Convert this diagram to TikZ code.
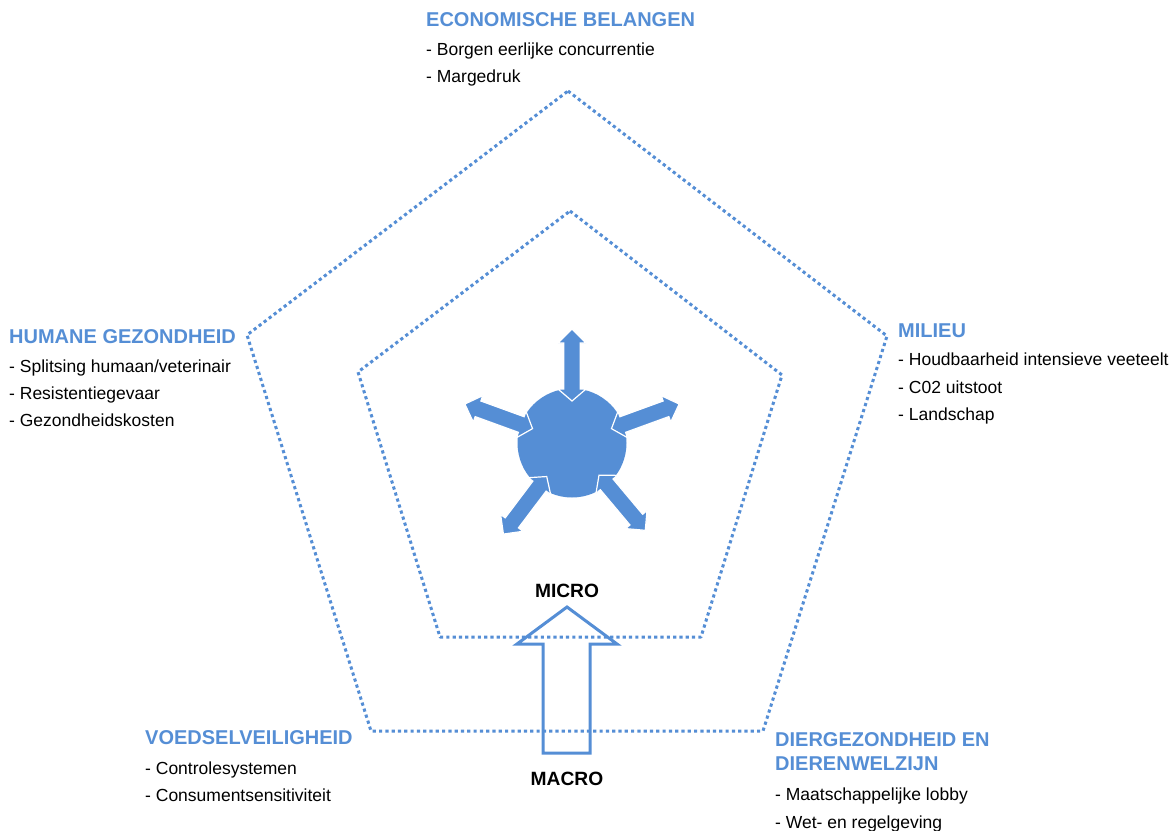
\documentclass[tikz,border=0pt]{standalone}
\usepackage{fontspec}
\setmainfont{Liberation Sans}
\definecolor{ob}{RGB}{85,142,213}
\begin{document}
\begin{tikzpicture}[x=1pt,y=-1pt,
  pent/.style={draw=ob, line width=3pt, dash pattern=on 3.2pt off 3.1pt, line join=round},
  hdr/.style={anchor=base west, inner sep=0pt, font=\fontsize{20}{24}\selectfont\bfseries, text=ob},
  itm/.style={anchor=base west, inner sep=0pt, font=\fontsize{17.5}{21}\selectfont},
  lbl/.style={anchor=base, inner sep=0pt, font=\fontsize{19.2}{23}\selectfont\bfseries},
  spoke/.style={fill=ob, draw=white, line width=1.2pt, line join=miter},
  bigarrow/.style={draw=ob, line width=3pt, line join=miter}]
\useasboundingbox (0,0) rectangle (1175,830);

% pentagons
\draw[pent] (568,91) -- (887,336) -- (763,731) -- (371,731) -- (247,335) -- cycle;
\draw[pent] (570,211) -- (782,375) -- (701,637) -- (440,637) -- (358,372) -- cycle;

% core
\node[circle, fill=ob, minimum size=109pt, inner sep=0pt] (core) at (572,443) {};
\foreach \a in {90,20,160,-50,-127}{
  \begin{scope}[shift={(572,443)}, rotate=\a]
    \filldraw[spoke] (42,0) -- (54,14) -- (54,8.3) -- (100,8.3) -- (100,14) -- (114,0)
      -- (100,-14) -- (100,-8.3) -- (54,-8.3) -- (54,-14) -- cycle;
  \end{scope}}

% macro -> micro arrow
\draw[bigarrow] (567,607) -- (617,644) -- (590,644) -- (590,753) -- (543,753) -- (543,644) -- (517,644) -- cycle;
\node[lbl] (micro) at (567,597) {MICRO};
\node[lbl] (macro) at (567,785) {MACRO};

% economische belangen
\node[hdr] (econ) at (426,26) {ECONOMISCHE BELANGEN};
\node[itm] (econ1) at (426,55) {- Borgen eerlijke concurrentie};
\node[itm] (econ2) at (426,82) {- Margedruk};

% humane gezondheid
\node[hdr] (hum) at (9,343) {HUMANE GEZONDHEID};
\node[itm] (hum1) at (9,372) {- Splitsing humaan/veterinair};
\node[itm] (hum2) at (9,399) {- Resistentiegevaar};
\node[itm] (hum3) at (9,426) {- Gezondheidskosten};

% milieu
\node[hdr] (mil) at (898,337) {MILIEU};
\node[itm] (mil1) at (898,365) {- Houdbaarheid intensieve veeteelt};
\node[itm] (mil2) at (898,393) {- C02 uitstoot};
\node[itm] (mil3) at (898,420) {- Landschap};

% voedselveiligheid
\node[hdr] (voed) at (145,744) {VOEDSELVEILIGHEID};
\node[itm] (voed1) at (145,774) {- Controlesystemen};
\node[itm] (voed2) at (145,801) {- Consumentsensitiviteit};

% diergezondheid
\node[hdr] (dier) at (775,746) {DIERGEZONDHEID EN};
\node[hdr] (dierb) at (775,770) {DIERENWELZIJN};
\node[itm] (dier1) at (775,800) {- Maatschappelijke lobby};
\node[itm] (dier2) at (775,828) {- Wet- en regelgeving};
\end{tikzpicture}
\end{document}
